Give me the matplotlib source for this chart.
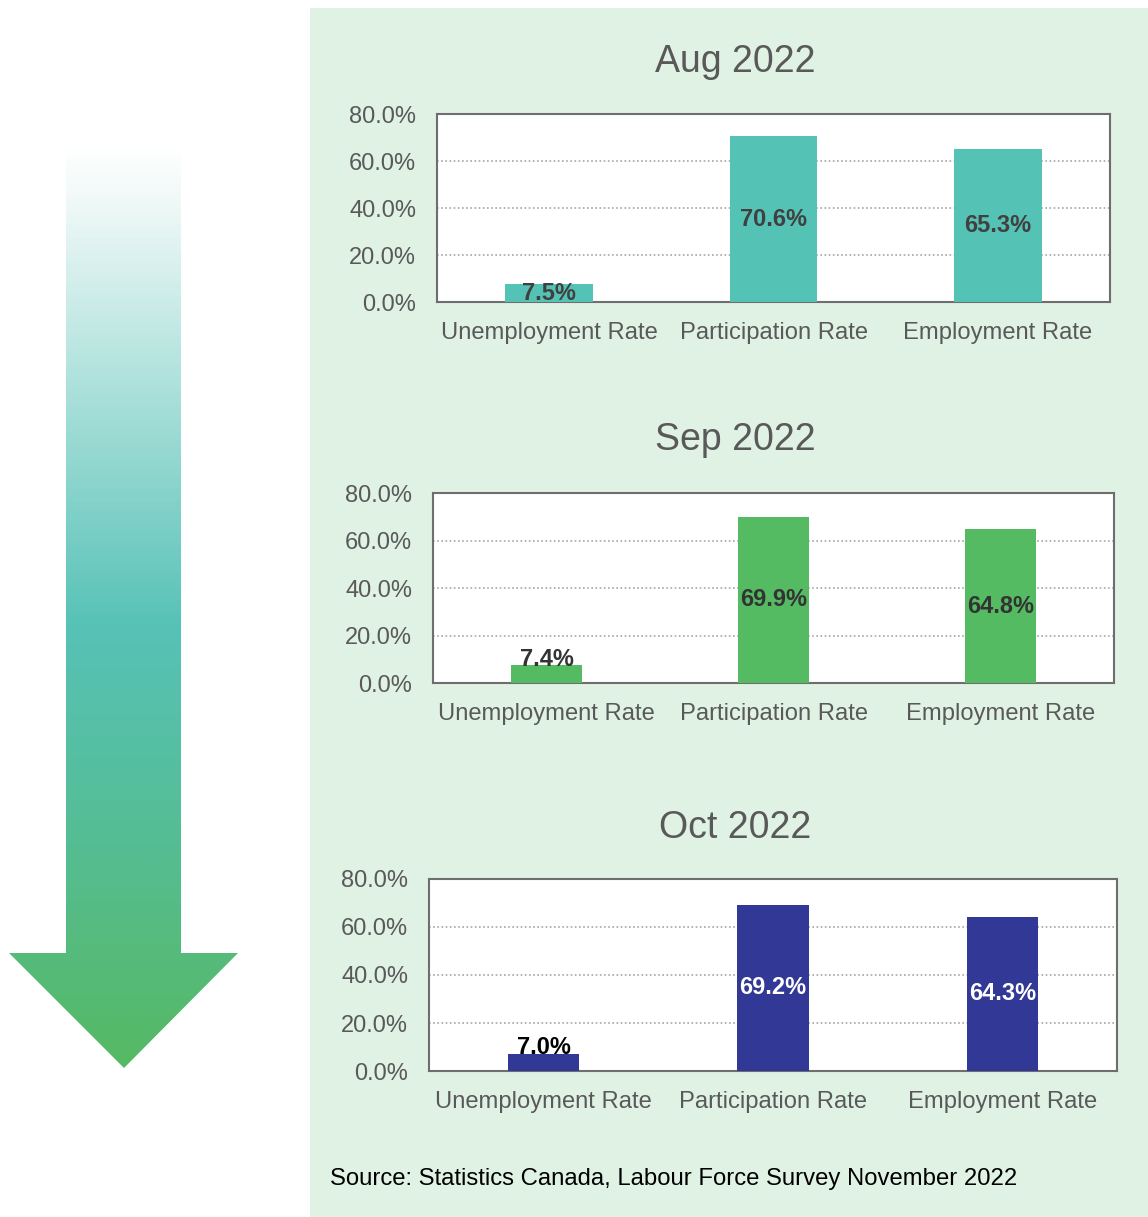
import matplotlib
matplotlib.use("Agg")
import matplotlib.pyplot as plt
import numpy as np
from matplotlib.patches import Rectangle, Polygon
from matplotlib.colors import LinearSegmentedColormap, to_rgba

plt.rcParams['font.family'] = ['Liberation Sans', 'DejaVu Sans']

categories = ["Unemployment Rate", "Participation Rate", "Employment Rate"]
months = ["Aug 2022", "Sep 2022", "Oct 2022"]
aug_values = [7.5, 70.6, 65.3]
sep_values = [7.4, 69.9, 64.8]
oct_values = [7.0, 69.2, 64.3]
yticks = [0, 20, 40, 60, 80]
source_text = "Source: Statistics Canada, Labour Force Survey November 2022"

W, H = 1148, 1217
fig = plt.figure(figsize=(W / 100, H / 100), dpi=100)
fig.patch.set_facecolor("white")

def fx(x):
    return x / W

def fy(y):
    return 1 - y / H

# green panel
fig.patches.append(Rectangle((fx(310), 0), fx(W - 310), fy(8), transform=fig.transFigure,
                             facecolor="#E0F2E4", edgecolor="none", zorder=-10))

# gradient arrow
arrow_ax = fig.add_axes([0, 0, fx(310), 1])
arrow_ax.set_xlim(0, 310)
arrow_ax.set_ylim(H, 0)
arrow_ax.axis("off")
arrow_ax.patch.set_alpha(0)
cmap = LinearSegmentedColormap.from_list("arr", [
    (0.0, to_rgba("#FFFFFF")),
    (0.05, to_rgba("#F3FAF9")),
    (0.52, to_rgba("#57C2B7")),
    (0.76, to_rgba("#55BD93")),
    (1.0, to_rgba("#55B963")),
])
grad = np.linspace(0, 1, 512).reshape(-1, 1)
img = arrow_ax.imshow(grad, extent=[0, 310, 1068, 145], cmap=cmap, aspect="auto",
                      interpolation="bilinear")
shape = Polygon([(66, 145), (181, 145), (181, 953), (238, 953), (124, 1068),
                 (9, 953), (66, 953)], closed=True, transform=arrow_ax.transData,
                facecolor="none", edgecolor="none")
arrow_ax.add_patch(shape)
img.set_clip_path(shape)

panels = [
    dict(vals=aug_values, title=months[0], box=(437, 114, 1110, 302), color="#55C2B6",
         width=0.39, lcol=["#404040", "#404040", "#404040"], mode="center", title_y=62),
    dict(vals=sep_values, title=months[1], box=(433, 493, 1114, 683), color="#55BB63",
         width=0.31, lcol=["#333333", "#333333", "#333333"], mode="mixed", title_y=440),
    dict(vals=oct_values, title=months[2], box=(429, 879, 1117, 1071), color="#323896",
         width=0.31, lcol=["#000000", "#FFFFFF", "#FFFFFF"], mode="mixed", title_y=828),
]

for p in panels:
    x0, y0, x1, y1 = p["box"]
    ax = fig.add_axes([fx(x0), fy(y1), fx(x1 - x0), (y1 - y0) / H])
    ax.set_zorder(2)
    ax.set_facecolor("white")
    x = np.arange(len(categories))
    ax.bar(x, p["vals"], width=p["width"], color=p["color"], zorder=3)
    ax.set_xlim(-0.5, 2.5)
    ax.set_ylim(0, 80)
    ax.set_yticks(yticks)
    ax.set_yticklabels([f"{v:.1f}%" for v in yticks])
    ax.set_xticks(x)
    ax.set_xticklabels(categories)
    ax.tick_params(axis="both", length=0, labelsize=17, colors="#595959")
    ax.tick_params(axis="y", pad=15)
    ax.tick_params(axis="x", pad=14.5)
    for lab in ax.get_xticklabels():
        lab.set_fontsize(17.1)
    ax.grid(axis="y", linestyle=(0, (1, 1.5)), color="#A6A6A6", linewidth=1.2, zorder=1)
    for s in ax.spines.values():
        s.set_color("#6E6E6E")
        s.set_linewidth(1.5)
    for i, v in enumerate(p["vals"]):
        if p["mode"] == "center" or i > 0:
            ax.text(i, v / 2, f"{v:.1f}%", ha="center", va="center", fontsize=17,
                    fontweight="bold", color=p["lcol"][i], zorder=4)
        else:
            ax.text(i, v - 2.2, f"{v:.1f}%", ha="center", va="bottom", fontsize=17,
                    fontweight="bold", color=p["lcol"][i], zorder=4)
    fig.text(fx(735), fy(p["title_y"]), p["title"], ha="center", va="center",
             fontsize=27, color="#595959")

fig.text(fx(330), fy(1179), source_text, ha="left", va="center", fontsize=17.2, color="#000000")

fig.savefig("out.png", dpi=100)
